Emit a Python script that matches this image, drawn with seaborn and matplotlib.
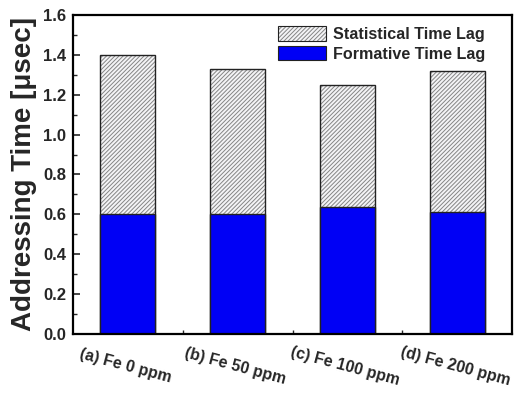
import matplotlib
matplotlib.use("Agg")
import matplotlib.pyplot as plt
import seaborn as sns
import pandas as pd
from matplotlib.colors import to_rgba
from matplotlib.patches import Patch
from matplotlib.ticker import MultipleLocator

categories = ["(a) Fe 0 ppm", "(b) Fe 50 ppm", "(c) Fe 100 ppm", "(d) Fe 200 ppm"]
formative_lag = [0.60, 0.60, 0.635, 0.61]
statistical_lag = [0.80, 0.73, 0.615, 0.71]
total_time = [f + s for f, s in zip(formative_lag, statistical_lag)]

df = pd.DataFrame({"cat": categories, "formative": formative_lag, "total": total_time})

sns.set_style("ticks")
plt.rcParams["font.family"] = ["Liberation Sans", "DejaVu Sans"]
plt.rcParams["font.weight"] = "bold"
plt.rcParams["hatch.linewidth"] = 0.7

fig = plt.figure(figsize=(5.23, 3.93), dpi=100)
ax = fig.add_axes([0.1396, 0.150, 0.8394, 0.812])

sns.barplot(data=df, x="cat", y="total", ax=ax, color="#f4f4f6", width=0.5,
            edgecolor="#222222", linewidth=1.0, saturation=1)
stat_patches = list(ax.patches)
for p in stat_patches:
    p.set_hatch("////////")
    p._hatch_color = to_rgba("#858585")

sns.barplot(data=df, x="cat", y="formative", ax=ax, color="#0000f5", width=0.5,
            edgecolor="#222222", linewidth=1.0, saturation=1)

ax.set_xlim(-0.5, 3.5)
ax.set_ylim(0, 1.6)
ax.yaxis.set_major_locator(MultipleLocator(0.2))
ax.yaxis.set_minor_locator(MultipleLocator(0.1))
ax.set_xticks([0, 1, 2, 3])
ax.set_xticks([0.5, 1.5, 2.5], minor=True)
ax.xaxis.set_major_formatter(plt.FixedFormatter(categories))
ax.set_yticklabels([f"{v:.1f}" for v in ax.get_yticks()])

ax.tick_params(axis="both", which="major", direction="in", length=5, width=1.2,
               labelsize=12)
ax.tick_params(axis="both", which="minor", direction="in", length=3, width=1.0)
ax.tick_params(axis="y", which="major", pad=5)
ax.tick_params(axis="x", which="major", pad=18)
for lab in ax.get_xticklabels():
    lab.set_rotation(-15)
    lab.set_rotation_mode("anchor")
    lab.set_ha("center")
    lab.set_fontsize(11.5)
    lab.set_fontweight("bold")
for lab in ax.get_yticklabels():
    lab.set_fontweight("bold")

for s in ax.spines.values():
    s.set_visible(True)
    s.set_linewidth(1.6)
    s.set_color("black")

ax.set_xlabel("")
ax.set_ylabel("Addressing Time [\u03bcsec]", fontsize=20, fontweight="bold", labelpad=4)

h1 = Patch(facecolor="#f4f4f6", edgecolor="#222222", hatch="////////", linewidth=0.8)
h1._hatch_color = to_rgba("#858585")
h2 = Patch(facecolor="#0000f5", edgecolor="#222222", linewidth=0.8)
ax.legend([h1, h2], ["Statistical Time Lag", "Formative Time Lag"], loc="upper right",
          frameon=False, prop={"size": 11.6, "weight": "bold"},
          handlelength=3.0, handleheight=1.0, handletextpad=0.45, labelspacing=0.25,
          borderaxespad=0.3, bbox_to_anchor=(0.965, 1.0))

fig.savefig("out.png", dpi=100)
